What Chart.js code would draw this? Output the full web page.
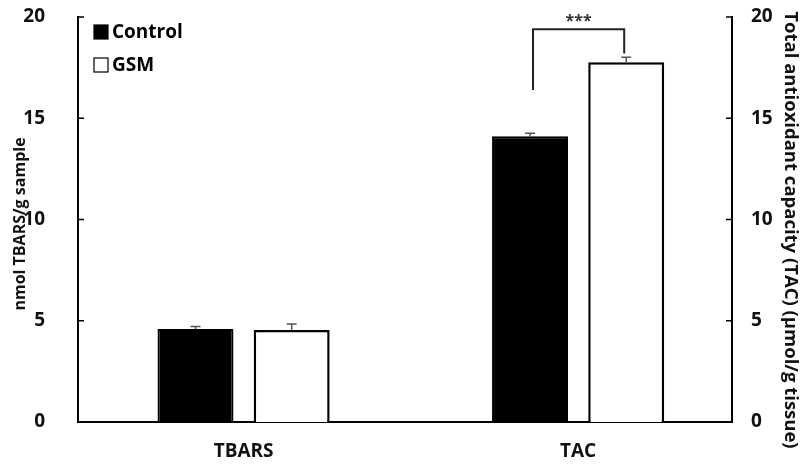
<!DOCTYPE html>
<html>
<head>
<meta charset="utf-8">
<script src="https://cdn.jsdelivr.net/npm/chart.js@4"></script>
<style>
  html, body { margin: 0; padding: 0; background: #fff; }
  #wrap { width: 801px; height: 467px; }
</style>
</head>
<body>
<div id="wrap"><canvas id="myChart" width="801" height="467"></canvas></div>
<script>
const categories = ['TBARS', 'TAC'];
const controlValues = [4.59, 14.11];
const controlErrors = [0.12, 0.15];
const gsmValues = [4.54, 17.76];
const gsmErrors = [0.3, 0.25];
const yTicks = [0, 5, 10, 15, 20];
const leftTitle = 'nmol TBARS/g sample';
const rightTitle = 'Total antioxidant capacity (TAC) (µmol/g tissue)';
// significance bracket for TAC: left leg bottom, top, right leg bottom, stars
const bracket = [16.4, 19.4, 18.2, 19.95];
// x range of the category axis (index units), groups sit a bit wider apart than default
const xStart = -0.495;
const xRange = 1.955;

const FONT = '"Open Sans", "DejaVu Sans", sans-serif';

const xRangeFix = {
    id: 'xRangeFix',
    afterLayout(chart) {
        const x = chart.scales.x;
        x._startValue = xStart;
        x._valueRange = xRange;
    }
};

const extras = {
    id: 'extras',
    afterDatasetsDraw(chart) {
        const c = chart.ctx;
        const y = chart.scales.y;
        const area = chart.chartArea;

        // error bars (upper only)
        c.save();
        c.strokeStyle = '#555';
        c.lineWidth = 1.5;
        [[0, controlErrors], [1, gsmErrors]].forEach(([di, errs]) => {
            const meta = chart.getDatasetMeta(di);
            meta.data.forEach((bar, i) => {
                const v = chart.data.datasets[di].data[i];
                const top = y.getPixelForValue(v + errs[i]);
                c.beginPath();
                c.moveTo(bar.x, bar.y);
                c.lineTo(bar.x, top);
                c.moveTo(bar.x - 5, top);
                c.lineTo(bar.x + 5, top);
                c.stroke();
            });
        });

        // inward tick marks on both axes
        c.strokeStyle = '#000';
        c.lineWidth = 1.5;
        yTicks.forEach(t => {
            const py = y.getPixelForValue(t);
            c.beginPath();
            c.moveTo(area.left, py);
            c.lineTo(area.left + 6, py);
            c.moveTo(area.right, py);
            c.lineTo(area.right - 6, py);
            c.stroke();
        });

        // bracket with stars
        const cBar = chart.getDatasetMeta(0).data[1];
        const gBar = chart.getDatasetMeta(1).data[1];
        const x1 = cBar.x + 3, x2 = gBar.x - 2;
        c.strokeStyle = '#222';
        c.lineWidth = 2;
        c.beginPath();
        c.moveTo(x1, y.getPixelForValue(bracket[0]));
        c.lineTo(x1, y.getPixelForValue(bracket[1]));
        c.lineTo(x2, y.getPixelForValue(bracket[1]));
        c.lineTo(x2, y.getPixelForValue(bracket[2]));
        c.stroke();
        c.fillStyle = '#333';
        c.font = 'bold 16px ' + FONT;
        c.textAlign = 'center';
        c.textBaseline = 'middle';
        c.fillText('***', (x1 + x2) / 2, y.getPixelForValue(bracket[3]) + 3);

        // legend in upper left
        c.font = 'bold 19px ' + FONT;
        c.textAlign = 'left';
        chart.data.datasets.forEach((ds, i) => {
            const ly = 32 + i * 33;
            c.fillStyle = ds.backgroundColor;
            c.fillRect(94, ly - 7, 14, 14);
            c.strokeStyle = '#000';
            c.lineWidth = 1.2;
            c.strokeRect(94, ly - 7, 14, 14);
            c.fillStyle = '#000';
            c.fillText(ds.label, 112, ly + 1);
        });

        // axis titles
        c.fillStyle = '#111';
        c.textAlign = 'center';
        c.textBaseline = 'middle';
        c.font = 'bold 16px ' + FONT;
        c.save();
        c.translate(20, 224);
        c.rotate(-Math.PI / 2);
        c.fillText(leftTitle, 0, 0);
        c.restore();
        c.font = 'bold 18.5px ' + FONT;
        c.save();
        c.translate(790, 230);
        c.rotate(Math.PI / 2);
        c.fillText(rightTitle, 0, 0);
        c.restore();
        c.restore();
    }
};

function fitY(width) {
    return s => {
        s.width = width;
        s.paddingTop = 0;
        s.paddingBottom = 0;
    };
}

const ctx = document.getElementById('myChart').getContext('2d');
new Chart(ctx, {
    type: 'bar',
    data: {
        labels: categories,
        datasets: [{
            label: 'Control',
            data: controlValues,
            backgroundColor: '#000000',
            borderColor: '#000000',
            borderWidth: 2,
            barPercentage: 0.79,
            categoryPercentage: 0.575
        }, {
            label: 'GSM',
            data: gsmValues,
            backgroundColor: '#ffffff',
            borderColor: '#000000',
            borderWidth: 2.5,
            barPercentage: 0.79,
            categoryPercentage: 0.575
        }]
    },
    options: {
        responsive: false,
        animation: false,
        layout: { padding: { top: 17, bottom: 0, left: 0, right: 0 }, autoPadding: false },
        plugins: { legend: { display: false }, tooltip: { enabled: false } },
        scales: {
            x: {
                grid: { display: false },
                border: { color: '#000', width: 2 },
                ticks: { color: '#111', font: { family: FONT, size: 19, weight: 'bold' }, padding: 10 },
                afterFit: s => { s.height = 45; s.paddingLeft = 0; s.paddingRight = 0; }
            },
            y: {
                position: 'left',
                min: 0, max: 20,
                afterBuildTicks: s => { s.ticks = yTicks.map(v => ({ value: v })); },
                grid: { display: false },
                border: { color: '#000', width: 2 },
                ticks: { color: '#111', font: { family: FONT, size: 19, weight: 'bold' }, padding: 25 },
                afterFit: fitY(78)
            },
            y2: {
                position: 'right',
                min: 0, max: 20,
                afterBuildTicks: s => { s.ticks = yTicks.map(v => ({ value: v })); },
                grid: { display: false },
                border: { color: '#000', width: 2 },
                ticks: { color: '#111', font: { family: FONT, size: 19, weight: 'bold' }, padding: 11 },
                afterFit: fitY(69)
            }
        }
    },
    plugins: [xRangeFix, extras]
});
</script>
</body>
</html>
